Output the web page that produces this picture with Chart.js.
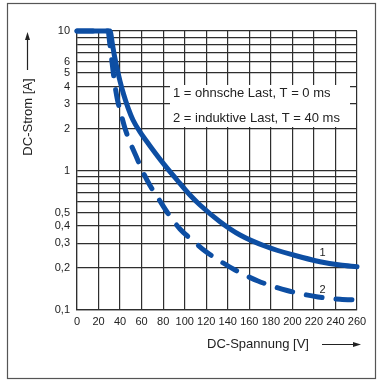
<!DOCTYPE html>
<html>
<head>
<meta charset="utf-8">
<title>DC-Strom / DC-Spannung</title>
<script src="https://cdn.jsdelivr.net/npm/chart.js@4"></script>
<style>
  body { margin: 0; background: #fff; }
  #wrap { position: relative; width: 379px; height: 381px; }
</style>
</head>
<body>
<div id="wrap"><canvas id="chart" width="379" height="381"></canvas></div>
<script>
// curve 1: ohmsche Last
const voltage1 = [0, 30.6, 33.0, 34.8, 37.1, 39.9, 43.2, 47.4, 52.0, 58.5, 67.8, 79.9, 92.9, 104.9, 114.2, 132.8, 151.4, 176.2, 200.9, 225.7, 244.3, 260];
const current1 = [10, 10, 7.94, 6.62, 5.43, 4.38, 3.53, 2.81, 2.30, 1.89, 1.50, 1.13, 0.855, 0.667, 0.566, 0.430, 0.345, 0.284, 0.248, 0.222, 0.210, 0.204];
// curve 2: induktive Last
const voltage2 = [0, 28.8, 30.6, 32.5, 34.8, 37.6, 40.9, 44.6, 49.2, 54.8, 60.4, 67.8, 75.3, 84.5, 95.6, 106.8, 118.9, 132.8, 146.8, 168.1, 195.1, 223.8, 244.3, 260];
const current2 = [10, 10, 7.94, 5.99, 4.31, 3.20, 2.54, 2.00, 1.60, 1.27, 1.008, 0.781, 0.635, 0.492, 0.381, 0.318, 0.265, 0.2246, 0.1935, 0.1614, 0.138, 0.124, 0.1193, 0.1179];

const xTicks = [0, 20, 40, 60, 80, 100, 120, 140, 160, 180, 200, 220, 240, 260];
const yTicks = [0.1, 0.2, 0.3, 0.4, 0.5, 0.6, 0.7, 0.8, 0.9, 1, 2, 3, 4, 5, 6, 7, 8, 9, 10];
const yLabels = [0.1, 0.2, 0.3, 0.4, 0.5, 1, 2, 3, 4, 5, 6, 10];
const legendLines = ['1 = ohnsche Last, T = 0 ms', '2 = induktive Last, T = 40 ms'];
const curveNames = ['1', '2'];

const FONT = '"Liberation Sans", Arial, sans-serif';
const BLUE = '#0d4ea3';
const INK = '#222';
const GRID = '#2e2e2e';

Chart.defaults.font.family = FONT;
Chart.defaults.color = INK;

function arrow(ctx, x1, y1, x2, y2) {
  const a = Math.atan2(y2 - y1, x2 - x1);
  ctx.beginPath();
  ctx.moveTo(x1, y1);
  ctx.lineTo(x2 - 6 * Math.cos(a), y2 - 6 * Math.sin(a));
  ctx.stroke();
  ctx.beginPath();
  ctx.moveTo(x2, y2);
  ctx.lineTo(x2 - 8 * Math.cos(a) + 2.5 * Math.sin(a), y2 - 8 * Math.sin(a) - 2.5 * Math.cos(a));
  ctx.lineTo(x2 - 8 * Math.cos(a) - 2.5 * Math.sin(a), y2 - 8 * Math.sin(a) + 2.5 * Math.cos(a));
  ctx.closePath();
  ctx.fill();
}

const decor = {
  id: 'decor',
  beforeDatasetsDraw(chart) {
    const ctx = chart.ctx;
    ctx.save();
    // white legend box over the grid
    ctx.fillStyle = '#fff';
    ctx.fillRect(170, 85, 180, 42);
    ctx.fillStyle = INK;
    ctx.font = '13px ' + FONT;
    ctx.textBaseline = 'middle';
    ctx.fillText(legendLines[0], 173, 93);
    ctx.fillText(legendLines[1], 173, 118);
    ctx.restore();
  },
  afterDraw(chart) {
    const ctx = chart.ctx;
    const xs = chart.scales.x, ys = chart.scales.y;
    ctx.save();
    ctx.fillStyle = INK;
    ctx.strokeStyle = INK;
    ctx.lineWidth = 1.2;

    // y title + arrow
    ctx.font = '13px ' + FONT;
    ctx.save();
    ctx.translate(28, 117);
    ctx.rotate(-Math.PI / 2);
    ctx.textAlign = 'center';
    ctx.textBaseline = 'middle';
    ctx.fillText('DC-Strom [A]', 0, 0);
    ctx.restore();
    arrow(ctx, 27.5, 70, 27.5, 32);

    // x title + arrow
    ctx.textAlign = 'center';
    ctx.textBaseline = 'middle';
    ctx.fillText('DC-Spannung [V]', 258, 344);
    arrow(ctx, 322, 344.5, 361, 344.5);

    // curve numbers
    ctx.font = '11px ' + FONT;
    ctx.fillText(curveNames[0], xs.getPixelForValue(228), ys.getPixelForValue(0.255));
    ctx.fillText(curveNames[1], xs.getPixelForValue(228), ys.getPixelForValue(0.140));

    // outer frame
    ctx.strokeStyle = '#555';
    ctx.lineWidth = 1.2;
    ctx.strokeRect(7.5, 3.5, 368, 375);
    ctx.restore();
  }
};

const pts = (xv, yv) => xv.map((x, i) => ({ x: x, y: yv[i] }));

new Chart(document.getElementById('chart'), {
  type: 'line',
  data: {
    datasets: [{
      label: legendLines[0],
      data: pts(voltage1, current1),
      borderColor: BLUE,
      borderWidth: 5,
      borderCapStyle: 'round',
      borderJoinStyle: 'round',
      pointRadius: 0,
      cubicInterpolationMode: 'monotone',
      clip: false
    }, {
      label: legendLines[1],
      data: pts(voltage2, current2),
      borderColor: BLUE,
      borderWidth: 5,
      borderDash: [16, 14],
      borderCapStyle: 'round',
      borderJoinStyle: 'round',
      pointRadius: 0,
      cubicInterpolationMode: 'monotone',
      clip: false
    }]
  },
  options: {
    responsive: false,
    animation: false,
    devicePixelRatio: 1,
    layout: { padding: { top: 31, right: 22, left: 0, bottom: 0 } },
    plugins: {
      legend: { display: false },
      tooltip: { enabled: false }
    },
    scales: {
      x: {
        type: 'linear',
        min: 0,
        max: 260,
        afterBuildTicks: s => { s.ticks = xTicks.map(v => ({ value: v })); },
        afterFit: s => { s.height = 71; },
        grid: { color: GRID, lineWidth: 1.2, drawTicks: false },
        border: { color: GRID, width: 1.2 },
        ticks: { padding: 5, font: { size: 11 }, color: INK, maxRotation: 0, autoSkip: false }
      },
      y: {
        type: 'logarithmic',
        min: 0.1,
        max: 10,
        afterBuildTicks: s => { s.ticks = yTicks.map(v => ({ value: v })); },
        afterFit: s => { s.width = 77; },
        grid: { color: GRID, lineWidth: 1.2, drawTicks: false },
        border: { color: GRID, width: 1.2 },
        ticks: {
          padding: 7,
          font: { size: 11 },
          color: INK,
          autoSkip: false,
          callback: v => yLabels.includes(v) ? String(v).replace('.', ',') : ''
        }
      }
    }
  },
  plugins: [decor]
});
</script>
</body>
</html>
